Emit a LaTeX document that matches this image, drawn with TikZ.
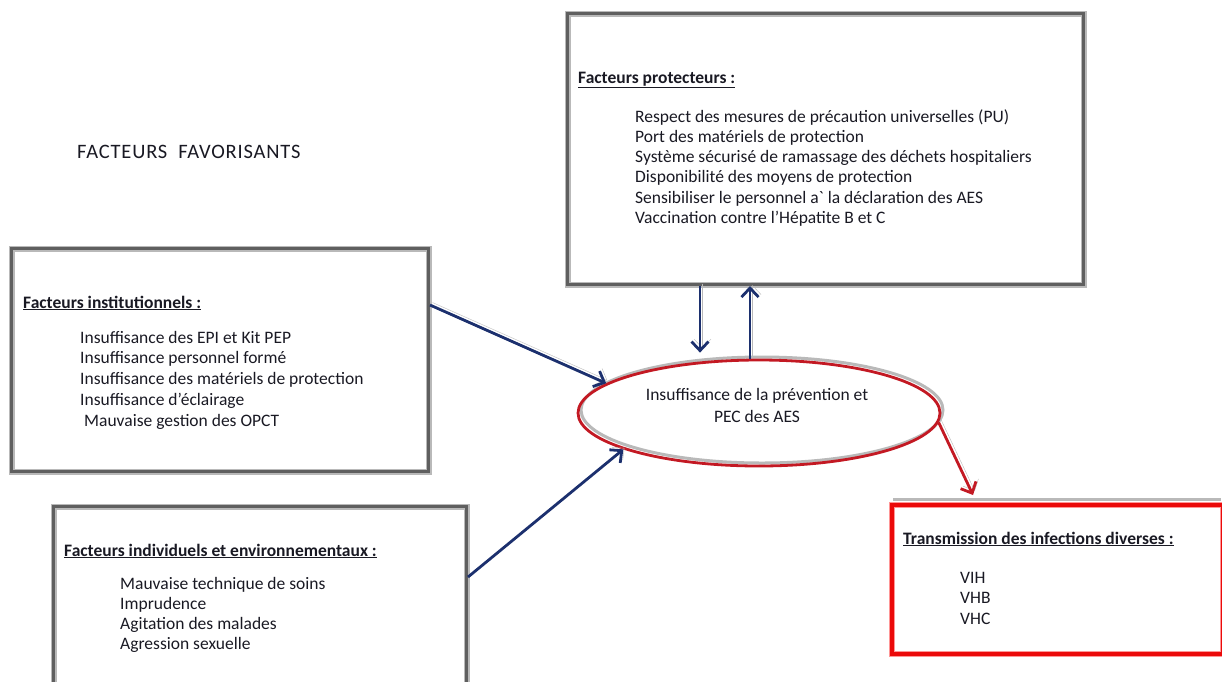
\documentclass[tikz,border=0pt]{standalone}
\usepackage{fontspec}
\setmainfont{Carlito}
\usetikzlibrary{arrows.meta,shapes.geometric,calc}
\definecolor{navy}{RGB}{28,48,110}
\definecolor{boxgray}{RGB}{95,95,95}
\definecolor{halo}{RGB}{185,185,185}
\definecolor{ellred}{RGB}{195,25,35}
\definecolor{boxred}{RGB}{235,10,10}
\definecolor{redhalo}{RGB}{255,150,150}
\definecolor{txt}{RGB}{25,25,35}
\begin{document}
\begin{tikzpicture}[x=1pt,y=-1pt,
  every node/.style={inner sep=0pt},
  txtn/.style={text=txt, font=\fontsize{17.5}{20.5}\selectfont, anchor=base west},
  graybox/.style={draw=boxgray, line width=3pt, preaction={draw=halo, line width=6pt}, anchor=north west},
  redbox/.style={draw=boxred, line width=3.5pt, preaction={draw=redhalo, line width=6pt}, anchor=north west},
  shadowpre/.style={preaction={draw=halo, transform canvas={xshift=2.5pt,yshift=2.5pt}}},
  navyarr/.style={draw=navy, line width=2.8pt, -{Straight Barb[length=9pt,width=17pt]}, shadowpre},
  redarr/.style={draw=ellred, line width=2.8pt, -{Straight Barb[length=9pt,width=17pt]}, shadowpre}
]
\useasboundingbox (0,0) rectangle (1222,681);

% boxes
\node[graybox, minimum width=516pt, minimum height=271pt] (prot) at (566,12) {};
\node[graybox, minimum width=417pt, minimum height=223pt] (inst) at (10,247) {};
\node[graybox, minimum width=413pt, minimum height=210pt] (indiv) at (52,505) {};
\draw[halo, line width=3pt] (893,499) -- (1221,499);
\node[redbox, minimum width=331pt, minimum height=149pt] (trans) at (890,503) {};

% ellipse
\draw[halo, line width=3pt] (762,410) ellipse [x radius=181pt, y radius=53pt];
\node[draw=ellred, line width=2.8pt, ellipse, minimum width=362pt, minimum height=106pt, fill=none] (ell) at (759,413) {};

% title
\node[txtn, font=\fontsize{20.5}{24}\selectfont\addfontfeature{LetterSpace=4}] (title) at (77,158) {FACTEURS\ \ FAVORISANTS};

% protecteurs
\node[txtn] (protH) at (578,83) {\underline{\textbf{Facteurs protecteurs :}}};
\foreach \t [count=\i] in {Respect des mesures de précaution universelles (PU),
  Port des matériels de protection,
  Système sécurisé de ramassage des déchets hospitaliers,
  Disponibilité des moyens de protection,
  Sensibiliser le personnel a\textasciigrave{} la déclaration des AES,
  Vaccination contre l’Hépatite B et C}
  \node[txtn] (prot\i) at (635,{122+20.3*(\i-1)}) {\t};

% institutionnels
\node[txtn] (instH) at (23,308) {\underline{\textbf{Facteurs institutionnels :}}};
\foreach \t [count=\i] in {Insuffisance des EPI et Kit PEP,
  Insuffisance personnel formé,
  Insuffisance des matériels de protection,
  Insuffisance d’éclairage}
  \node[txtn] (inst\i) at (80,{343+20.8*(\i-1)}) {\t};
\node[txtn] (inst5) at (84,426) {Mauvaise gestion des OPCT};

% individuels
\node[txtn] (indivH) at (64,556) {\underline{\textbf{Facteurs individuels et environnementaux :}}};
\foreach \t [count=\i] in {Mauvaise technique de soins,
  Imprudence,
  Agitation des malades,
  Agression sexuelle}
  \node[txtn] (indiv\i) at (120,{589+20*(\i-1)}) {\t};

% transmission
\node[txtn] (transH) at (903,544) {\underline{\textbf{Transmission des infections diverses :}}};
\foreach \t [count=\i] in {VIH, VHB, VHC}
  \node[txtn] (trans\i) at (960,{583+20.5*(\i-1)}) {\t};

% ellipse text
\node[txtn, anchor=base] (ellA) at (757,400) {Insuffisance de la prévention et};
\node[txtn, anchor=base] (ellB) at (757,422) {PEC des AES};

% arrows
\draw[navyarr] (inst.east |- 0,305) -- (ell.169);
\draw[navyarr] (indiv.east |- 0,577) -- (ell.195);
\draw[navyarr] (prot.south -| 700,0) -- ($(ell.north -| 700,0)+(0,-6)$);
\draw[navyarr] (ell.north -| 750,0) -- (prot.south -| 750,0);
\draw[redarr] (ell.-3) -- ($(trans.north west)+(83,-8)$);
\end{tikzpicture}
\end{document}
